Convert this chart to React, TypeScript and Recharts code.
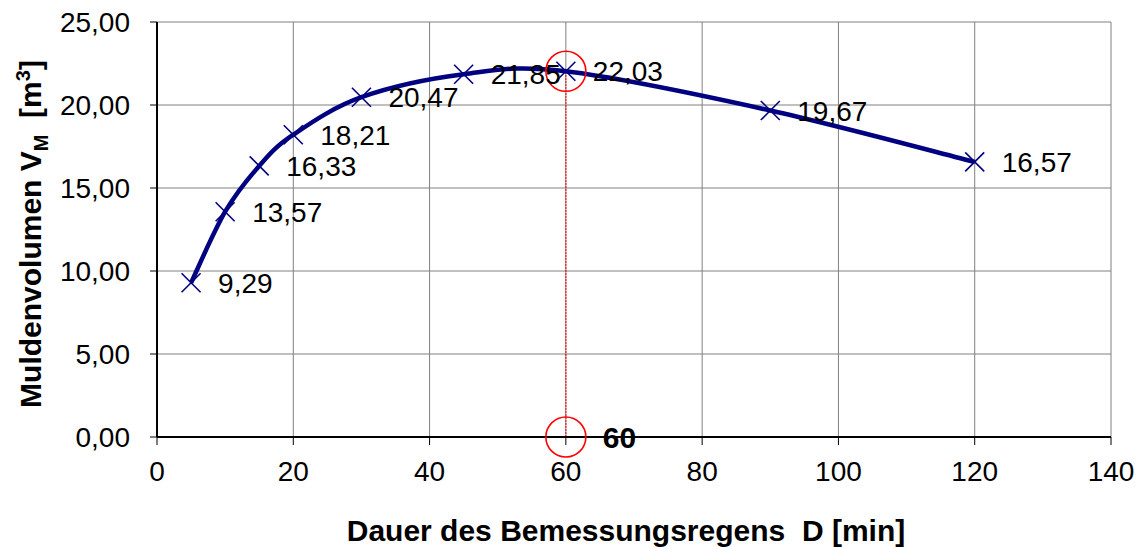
import React from 'react';
import {
  ComposedChart, Line, XAxis, YAxis, CartesianGrid, ReferenceLine, ReferenceDot, LabelList,
} from 'recharts';

const durations = [5, 10, 15, 20, 30, 45, 60, 90, 120];
const volumes = [9.29, 13.57, 16.33, 18.21, 20.47, 21.85, 22.03, 19.67, 16.57];
const xTicks = [0, 20, 40, 60, 80, 100, 120, 140];
const yTicks = [0, 5, 10, 15, 20, 25];
const designDuration = 60;
const designVolume = 22.03;

const data = durations.map((d, i) => ({ d, v: volumes[i] }));

const NAVY = '#000080';
const FONT = '"Liberation Sans", Arial, sans-serif';

const fmt = (v: number) => v.toFixed(2).replace('.', ',');

// smoothing similar to Excel's smoothed line (Catmull-Rom style bezier)
const excelSmooth = (context: any) => {
  let pts: number[][] = [];
  return {
    areaStart() {},
    areaEnd() {},
    lineStart() { pts = []; },
    point(x: number, y: number) { pts.push([+x, +y]); },
    lineEnd() {
      if (!pts.length) return;
      context.moveTo(pts[0][0], pts[0][1]);
      for (let i = 0; i < pts.length - 1; i++) {
        const p0 = pts[i - 1] || pts[i];
        const p1 = pts[i];
        const p2 = pts[i + 1];
        const p3 = pts[i + 2] || pts[i + 1];
        context.bezierCurveTo(
          p1[0] + (p2[0] - p0[0]) / 6, p1[1] + (p2[1] - p0[1]) / 6,
          p2[0] - (p3[0] - p1[0]) / 6, p2[1] - (p3[1] - p1[1]) / 6,
          p2[0], p2[1],
        );
      }
    },
  };
};

const CrossDot = (props: any) => {
  const { cx, cy } = props;
  if (cx == null || cy == null) return null;
  const h = 9.5;
  return (
    <g>
      <line x1={cx - h} y1={cy - h} x2={cx + h} y2={cy + h} stroke={NAVY} strokeWidth={1.6} />
      <line x1={cx - h} y1={cy + h} x2={cx + h} y2={cy - h} stroke={NAVY} strokeWidth={1.6} />
    </g>
  );
};

const ValueLabel = (props: any) => {
  const { x, y, value } = props;
  return (
    <text x={x + 27} y={y} dy="0.36em" fontSize={28} fontFamily={FONT} fill="#000">
      {fmt(value)}
    </text>
  );
};

const YTitle = () => {
  const cx = 30;
  const cy = 234;
  return (
    <text
      x={cx}
      y={cy}
      transform={`rotate(-90 ${cx} ${cy})`}
      textAnchor="middle"
      dy="0.36em"
      fontFamily={FONT}
      fontWeight="bold"
      fontSize={30}
      fill="#000"
    >
      Muldenvolumen V<tspan fontSize={20} dy={7}>M</tspan>
      <tspan dy={-7}>{'\u00a0 [m'}</tspan>
      <tspan fontSize={20} dy={-11}>3</tspan>
      <tspan dy={11}>]</tspan>
    </text>
  );
};

const CircleMark = (withText: boolean) => (props: any) => {
  const { cx, cy } = props;
  return (
    <g>
      <circle cx={cx} cy={cy} r={20} fill="none" stroke="#ff0000" strokeWidth={1.6} />
      {withText && (
        <text x={cx + 37} y={cy} dy="0.36em" fontFamily={FONT} fontWeight="bold" fontSize={30} fill="#000">
          {designDuration}
        </text>
      )}
    </g>
  );
};

export default function App() {
  return (
    <div style={{ position: 'absolute', left: 0, top: 0, width: 1145, height: 547, background: '#fff' }}>
      <ComposedChart
        width={1145}
        height={547}
        data={data}
        margin={{ top: 22, right: 34, left: 0, bottom: 0 }}
      >
        <CartesianGrid stroke="#808080" strokeWidth={1} horizontalValues={yTicks} verticalValues={xTicks} />
        <XAxis
          type="number"
          dataKey="d"
          domain={[0, 140]}
          ticks={xTicks}
          interval={0}
          height={110}
          tickSize={8}
          tickMargin={16}
          axisLine={{ stroke: '#000', strokeWidth: 2 }}
          tickLine={{ stroke: '#000' }}
          tick={{ fontSize: 28, fill: '#000', fontFamily: FONT }}
          label={{
            value: 'Dauer des Bemessungsregens\u00a0 D [min]',
            position: 'insideBottom',
            offset: 6,
            dx: -8,
            fontSize: 30,
            fontWeight: 'bold',
            fill: '#000',
            fontFamily: FONT,
          }}
        />
        <YAxis
          type="number"
          domain={[0, 25]}
          ticks={yTicks}
          interval={0}
          width={157}
          tickSize={7}
          tickMargin={20}
          tickFormatter={fmt}
          axisLine={{ stroke: '#000', strokeWidth: 2 }}
          tickLine={{ stroke: '#000' }}
          tick={{ fontSize: 28, fill: '#000', fontFamily: FONT }}
          label={<YTitle />}
        />
        <ReferenceLine
          segment={[{ x: designDuration, y: 0 }, { x: designDuration, y: designVolume }]}
          stroke="#ff0000"
          strokeWidth={1}
          strokeDasharray="2 1"
        />
        <Line
          dataKey="v"
          type={excelSmooth as any}
          stroke={NAVY}
          strokeWidth={4.5}
          dot={<CrossDot />}
          activeDot={false}
          isAnimationActive={false}
        >
          <LabelList dataKey="v" content={<ValueLabel />} />
        </Line>
        <ReferenceDot x={designDuration} y={designVolume} r={20} shape={CircleMark(false)} />
        <ReferenceDot x={designDuration} y={0} r={20} shape={CircleMark(true)} />
      </ComposedChart>
    </div>
  );
}
